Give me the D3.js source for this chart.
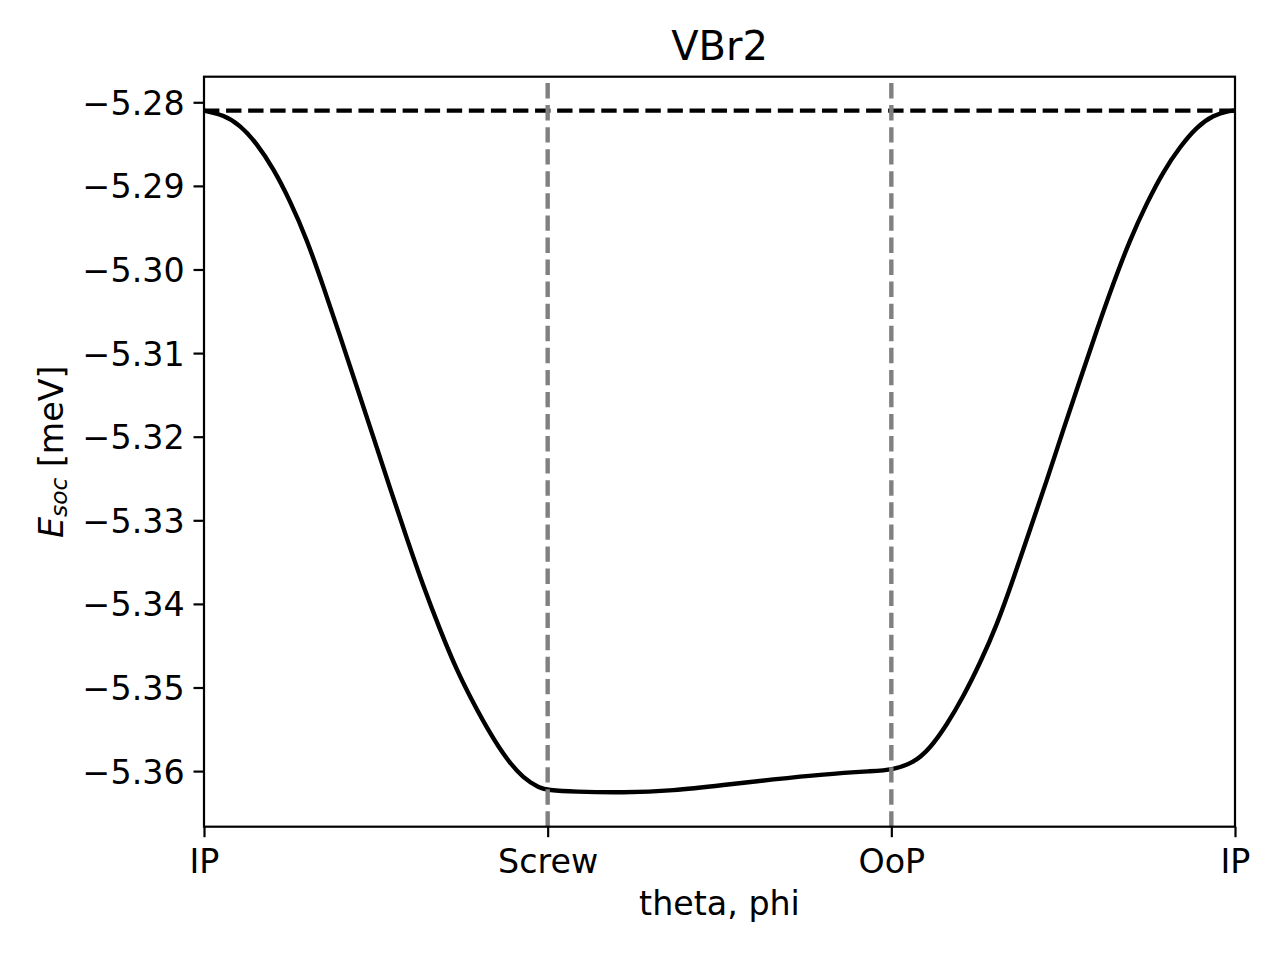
<!DOCTYPE html>
<html>
<head>
<meta charset="utf-8">
<script src="https://cdn.jsdelivr.net/npm/d3@7"></script>
<style>
  html, body { margin: 0; padding: 0; background: #fff; }
  svg { display: block; font-family: "DejaVu Sans", sans-serif; }
</style>
</head>
<body>
<svg id="chart" width="1280" height="960"></svg>
<script>
// ---- data ----
const title = "VBr2";
const xTickPositions = [0, 1, 2, 3];
const xTickLabels = ["IP", "Screw", "OoP", "IP"];
const yTickValues = [-5.28, -5.29, -5.30, -5.31, -5.32, -5.33, -5.34, -5.35, -5.36];
const referenceLevel = -5.2810;
const curveX = [
  0.000, 0.056, 0.105, 0.153, 0.202, 0.250, 0.299, 0.347, 0.396, 0.444,
  0.493, 0.541, 0.590, 0.638, 0.687, 0.735, 0.784, 0.832, 0.881, 0.929,
  0.978, 1.000,
  1.075, 1.220, 1.366, 1.511, 1.657, 1.802, 1.948, 2.000,
  2.064, 2.113, 2.161, 2.209, 2.258, 2.307, 2.355, 2.403, 2.452, 2.500,
  2.549, 2.598, 2.646, 2.694, 2.743, 2.791, 2.840, 2.889, 2.937, 2.985, 3.000
];
const curveY = [
  -5.28100, -5.28150, -5.28272, -5.28490, -5.28792, -5.29175, -5.29635, -5.30200, -5.30796, -5.31398,
  -5.32004, -5.32614, -5.33214, -5.33788, -5.34312, -5.34791, -5.35189, -5.35548, -5.35862, -5.36086,
  -5.36206, -5.36226,
  -5.36247, -5.36259, -5.36235, -5.36167, -5.36098, -5.36038, -5.35999, -5.35987,
  -5.35907, -5.35728, -5.35449, -5.35114, -5.34710, -5.34255, -5.33702, -5.33116, -5.32530, -5.31920,
  -5.31322, -5.30724, -5.30165, -5.29647, -5.29208, -5.28830, -5.28531, -5.28292, -5.28152, -5.28100, -5.28100
];
const yDomain = [-5.36665, -5.27694];

// ---- layout ----
const L = 204, R = 1235, T = 76.7, B = 826.7;
const svg = d3.select("#chart");
const x = d3.scaleLinear().domain([0, 3]).range([L, R]);
const y = d3.scaleLinear().domain(yDomain).range([B, T]);

const fs = 33.3;
const lw = 4.4;
const dash = "15.4,6.67";

// curve
const pts = curveX.map((v, i) => [v, curveY[i]]);
svg.append("path")
  .datum(pts)
  .attr("fill", "none")
  .attr("stroke", "#000")
  .attr("stroke-width", lw)
  .attr("stroke-linejoin", "round")
  .attr("stroke-linecap", "butt")
  .attr("d", d3.line().x(d => x(d[0])).y(d => y(d[1])).curve(d3.curveBasis));

// horizontal reference line
svg.append("line")
  .attr("x1", x(0)).attr("x2", x(3))
  .attr("y1", y(referenceLevel)).attr("y2", y(referenceLevel))
  .attr("stroke", "#000").attr("stroke-width", lw)
  .attr("stroke-dasharray", dash);

// vertical markers at Screw and OoP (drawn bottom to top)
svg.selectAll("line.vmark")
  .data([1, 2])
  .enter().append("line")
  .attr("class", "vmark")
  .attr("x1", d => x(d)).attr("x2", d => x(d))
  .attr("y1", B).attr("y2", T)
  .attr("stroke", "#808080").attr("stroke-width", lw)
  .attr("stroke-dasharray", dash);

// axes
const xAxis = d3.axisBottom(x)
  .tickValues(xTickPositions)
  .tickFormat((d, i) => xTickLabels[i])
  .tickSizeInner(10.5).tickSizeOuter(0).tickPadding(9.7);
const gx = svg.append("g").attr("transform", `translate(0,${B})`).call(xAxis);
gx.select(".domain").remove();
gx.selectAll(".tick line").attr("stroke", "#000").attr("stroke-width", 2.2);
gx.selectAll(".tick text")
  .attr("fill", "#000")
  .style("font-size", fs + "px")
  .style("font-family", "DejaVu Sans")
  .attr("y", 46).attr("dy", 0);

const yAxis = d3.axisLeft(y)
  .tickValues(yTickValues)
  .tickFormat(d => d3.format(".2f")(d).replace("-", "\u2212"))
  .tickSizeInner(10.5).tickSizeOuter(0).tickPadding(9.7);
const gy = svg.append("g").attr("transform", `translate(${L},0)`).call(yAxis);
gy.select(".domain").remove();
gy.selectAll(".tick line").attr("stroke", "#000").attr("stroke-width", 2.2);
gy.selectAll(".tick text")
  .attr("fill", "#000")
  .attr("x", -19.4)
  .style("font-size", fs + "px")
  .style("font-family", "DejaVu Sans")
  .attr("dy", "0.36em");

// spines
svg.append("rect")
  .attr("x", L).attr("y", T)
  .attr("width", R - L).attr("height", B - T)
  .attr("fill", "none").attr("stroke", "#000").attr("stroke-width", 2.2);

// title
svg.append("text")
  .attr("x", (L + R) / 2).attr("y", 59.5)
  .attr("text-anchor", "middle")
  .style("font-size", "40px")
  .attr("fill", "#000")
  .text(title);

// x label
svg.append("text")
  .attr("x", (L + R) / 2).attr("y", 915)
  .attr("text-anchor", "middle")
  .style("font-size", fs + "px")
  .attr("fill", "#000")
  .text("theta, phi");

// y label
const yl = svg.append("text")
  .attr("transform", `translate(63,${(T + B) / 2}) rotate(-90)`)
  .attr("text-anchor", "middle")
  .style("font-size", fs + "px")
  .attr("fill", "#000");
yl.append("tspan").style("font-style", "italic").text("E");
yl.append("tspan").style("font-style", "italic").style("font-size", (fs * 0.7) + "px")
  .attr("dy", 4).text("soc");
yl.append("tspan").attr("dy", -4).text("\u00a0[meV]");
</script>
</body>
</html>
